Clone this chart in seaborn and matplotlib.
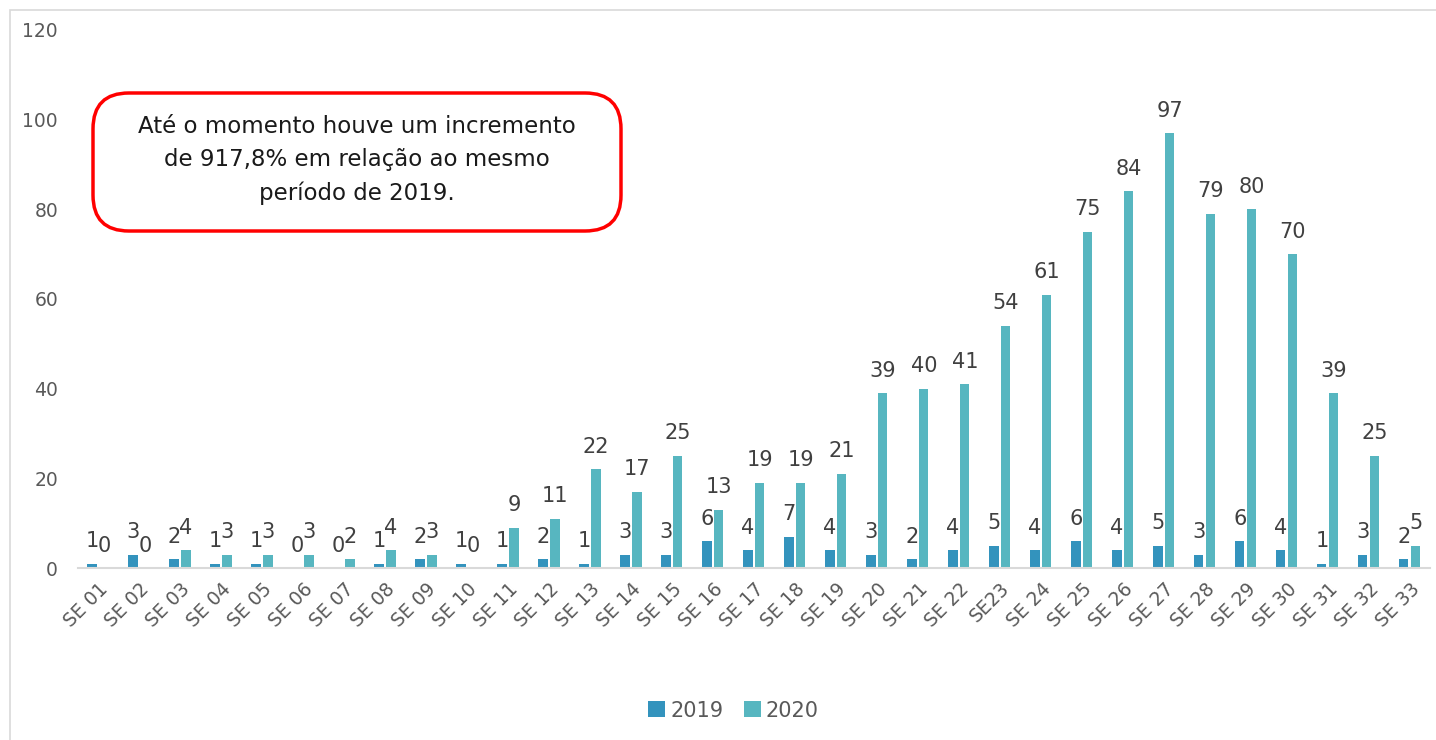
import pandas as pd
import matplotlib
matplotlib.use("Agg")
import matplotlib.pyplot as plt
import seaborn as sns
from matplotlib.patches import FancyBboxPatch, Rectangle

# Semanas epidemiológicas e casos por ano
semanas = ["SE 01", "SE 02", "SE 03", "SE 04", "SE 05", "SE 06", "SE 07", "SE 08",
           "SE 09", "SE 10", "SE 11", "SE 12", "SE 13", "SE 14", "SE 15", "SE 16",
           "SE 17", "SE 18", "SE 19", "SE 20", "SE 21", "SE 22", "SE23", "SE 24",
           "SE 25", "SE 26", "SE 27", "SE 28", "SE 29", "SE 30", "SE 31", "SE 32", "SE 33"]
casos_2019 = [1, 3, 2, 1, 1, 0, 0, 1, 2, 1, 1, 2, 1, 3, 3, 6, 4, 7, 4, 3, 2, 4, 5, 4,
              6, 4, 5, 3, 6, 4, 1, 3, 2]
casos_2020 = [0, 0, 4, 3, 3, 3, 2, 4, 3, 0, 9, 11, 22, 17, 25, 13, 19, 19, 21, 39, 40,
              41, 54, 61, 75, 84, 97, 79, 80, 70, 39, 25, 5]
anos = ["2019", "2020"]
cores = ["#3393BD", "#57B6C0"]

texto_box = "Até o momento houve um incremento\nde 917,8% em relação ao mesmo\nperíodo de 2019."

df = pd.DataFrame({
    "semana": semanas * 2,
    "casos": casos_2019 + casos_2020,
    "ano": [anos[0]] * len(semanas) + [anos[1]] * len(semanas),
})

sns.set_style("white")
plt.rcParams["font.family"] = ["DejaVu Sans"]
cinza = "#595959"

fig = plt.figure(figsize=(14.36, 7.4), dpi=100)
ax = fig.add_axes([0.054, 0.2324, 0.942, 0.7271])

sns.barplot(data=df, x="semana", y="casos", hue="ano", palette=cores,
            width=0.58, gap=0.22, ax=ax, saturation=1, legend=True,
            linewidth=0, edgecolor="none")

for cont in ax.containers:
    ax.bar_label(cont, fmt="%d", padding=9, fontsize=15, color="#404040")

ax.set_ylim(0, 120)
ax.set_xlim(-0.5, len(semanas) - 0.5)
ax.set_yticks(range(0, 121, 20))
ax.tick_params(axis="y", labelsize=13.5, labelcolor=cinza, length=0, pad=14)
ax.tick_params(axis="x", labelsize=13.5, labelcolor=cinza, length=0, pad=8)
plt.setp(ax.get_xticklabels(), rotation=45, ha="right", rotation_mode="anchor")
ax.set_xlabel("")
ax.set_ylabel("")
for s in ["top", "right", "left"]:
    ax.spines[s].set_visible(False)
ax.spines["bottom"].set_color("#D9D9D9")
ax.spines["bottom"].set_linewidth(1.5)

leg = ax.legend(loc="center", bbox_to_anchor=(0.485, -0.265), ncol=2, frameon=False,
                fontsize=15, handlelength=0.8, handleheight=0.8, handletextpad=0.25,
                columnspacing=1.0)
for t in leg.get_texts():
    t.set_color(cinza)

# caixa de texto
box = FancyBboxPatch((93 / 1436, 1 - 231 / 740), 528 / 1436, 138 / 740,
                     boxstyle="round,pad=0,rounding_size=0.025",
                     transform=fig.transFigure, facecolor="white",
                     edgecolor="#FF0000", linewidth=2.5, mutation_aspect=1436 / 740)
fig.patches.append(box)
fig.text(357 / 1436, 1 - 160 / 740, texto_box, ha="center", va="center",
         fontsize=16.5, color="#1a1a1a", linespacing=1.55)

# moldura do gráfico
fig.patches.append(Rectangle((10 / 1436, -0.01), 1.02, 1 - 10 / 740 + 0.01,
                             transform=fig.transFigure, fill=False,
                             edgecolor="#D9D9D9", linewidth=1.2))

fig.savefig("out.png", dpi=100)
